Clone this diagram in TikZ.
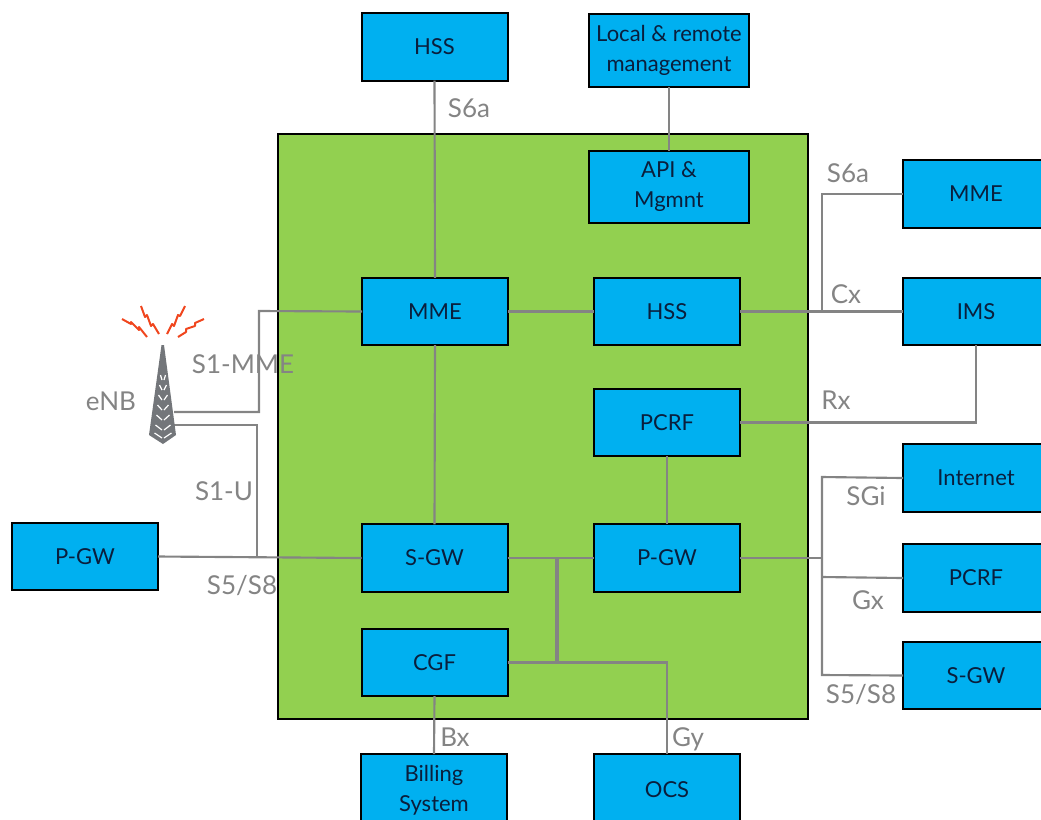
\documentclass[tikz,border=0pt]{standalone}
\usepackage{fontspec}
\setmainfont{Lato}
\definecolor{boxblue}{RGB}{0,176,240}
\definecolor{epcgreen}{RGB}{146,208,80}
\definecolor{linkgray}{RGB}{132,132,132}
\definecolor{towergray}{RGB}{115,118,122}
\definecolor{boxtext}{RGB}{10,30,60}
\definecolor{boltred}{RGB}{240,70,30}
\tikzset{
  boxnode/.style={draw=black,fill=boxblue,line width=1.5pt,inner sep=0pt,outer sep=0pt,
    minimum width=109.5pt,minimum height=50.5pt,align=center,text=boxtext,font=\fontsize{16.5}{22.5}\selectfont},
  linklabel/.style={text=linkgray,inner sep=0pt,font=\fontsize{19.5}{22}\selectfont},
  link/.style={draw=linkgray,line width=1.6pt},
  bolt/.style={draw=boltred,line width=1.5pt,line join=round},
}
\begin{document}
\begin{tikzpicture}[x=0.75pt,y=0.75pt,yscale=-1,xscale=1]
        \clip (0,0) rectangle (1041,819);
        \draw [line width=1.5pt,fill=epcgreen] (278,134) rectangle (808,719);
        % inside the core
        \coordinate (mmeLeft) at (259,311);
        \coordinate (s1mmeEnd) at (174,412);
        \coordinate (s1uEnd) at (174,425);
        \coordinate (s1uJoin) at (257,558);
        \coordinate (billTop) at (557,558);
        \coordinate (billBottom) at (557,661);
        \coordinate (cxJoin) at (822,311);
        \coordinate (sgiJoin) at (822,477);
        \coordinate (gxJoin) at (822,577);
        \coordinate (s5Join) at (822,675);
        \coordinate (pgwJoin) at (822,558);
        % boxes
        \node [boxnode] (hssTop) at (434.5,47) {HSS};
        \node [boxnode,minimum width=120pt,minimum height=55pt] (localMgmt) at (669,50.5) {Local \& remote\\management};
        \node [boxnode,minimum width=120pt,minimum height=54pt] (apiMgmt) at (669,187) {API \&\\Mgmnt};
        \node [boxnode] (mmeCore) at (435,311.5) {MME};
        \node [boxnode] (hssCore) at (667,311.5) {HSS};
        \node [boxnode] (pcrfCore) at (667,422.5) {PCRF};
        \node [boxnode] (sgwCore) at (434.5,558) {S-GW};
        \node [boxnode] (pgwCore) at (667,558) {P-GW};
        \node [boxnode] (cgfCore) at (434.5,662.5) {CGF};
        \node [boxnode] (pgwLeft) at (85,556.5) {P-GW};
        \node [boxnode,minimum height=54pt] (billing) at (434,790) {Billing\\System};
        \node [boxnode,minimum height=54pt] (ocs) at (667,790) {OCS};
        \node [boxnode] (mmeRight) at (976,194) {MME};
        \node [boxnode] (imsRight) at (976,311.5) {IMS};
        \node [boxnode] (internet) at (976,478) {Internet};
        \node [boxnode] (pcrfRight) at (976,578) {PCRF};
        \node [boxnode] (sgwRight) at (976,675.5) {S-GW};
        % links
        \draw [link] (hssTop.south) -- (mmeCore.north);
        \draw [link] (localMgmt.south) -- (apiMgmt.north);
        \draw [link] (mmeCore.south) -- (sgwCore.north);
        \draw [link] (mmeCore.east) -- (hssCore.west);
        \draw [link] (hssCore.east) -- (imsRight.west);
        \draw [link] (cxJoin) |- (mmeRight.west);
        \draw [link] (pcrfCore.east) -| (imsRight.south);
        \draw [link] (pcrfCore.south) -- (pgwCore.north);
        \draw [link] (sgwCore.east) -- (pgwCore.west);
        \draw [link] (pgwLeft.east) -- (sgwCore.west);
        \draw [link] (s1mmeEnd) -| (mmeLeft) -- (mmeCore.west);
        \draw [link] (s1uEnd) -| (s1uJoin);
        \draw [link,line width=2.6pt] (billTop) -- (billBottom);
        \draw [link] (cgfCore.east) -| (ocs.north);
        \draw [link] (cgfCore.south) -- (billing.north);
        \draw [link] (pgwCore.east) -- (pgwJoin);
        \draw [link] (internet.west) -- (sgiJoin) -- (s5Join) -- (sgwRight.west);
        \draw [link] (gxJoin) -- (pcrfRight.west);
        % link names
        \node [linklabel] (s6aTop) at (469,108) {S6a};
        \node [linklabel] (s6aRight) at (848,173) {S6a};
        \node [linklabel] (cxLabel) at (846,294) {Cx};
        \node [linklabel] (rxLabel) at (836,400) {Rx};
        \node [linklabel] (sgiLabel) at (866,496) {SGi};
        \node [linklabel] (gxLabel) at (868,600) {Gx};
        \node [linklabel] (s5Right) at (861,694) {S5/S8};
        \node [linklabel] (gyLabel) at (688,739) {Gy};
        \node [linklabel] (bxLabel) at (455,737) {Bx};
        \node [linklabel] (s1mmeLabel) at (243,364) {S1-MME};
        \node [linklabel] (enbLabel) at (111,401) {eNB};
        \node [linklabel] (s1uLabel) at (224,491) {S1-U};
        \node [linklabel] (s5Left) at (242,585) {S5/S8};
        % tower
        \fill [towergray] (161.5,345) -- (164,345) -- (176,435) -- (163,444) -- (149,435) -- cycle;
        \foreach \y/\w in {375/2.5,385/3.5,395/4.5,405/5.5,415/6.5,425/7.5,433/8.5} {
          \draw [white,line width=0.9pt] (163-\w,\y) -- (162,\y+5);
          \draw [white,line width=0.9pt] (163+\w,\y) -- (164,\y+5);
        }
        % radio waves
        \draw [bolt] (122,319) -- (131,324) -- (131,322) -- (139,330) -- (139,327) -- (147,337);
        \draw [bolt] (141,306) -- (145,317) -- (147,315) -- (151,326) -- (153,324) -- (159,334);
        \draw [bolt] (185,306) -- (180,316) -- (178,315) -- (174,326) -- (172,324) -- (167,334);
        \draw [bolt] (204,319) -- (195,323) -- (195,326) -- (186,329) -- (186,332) -- (178,337);
\end{tikzpicture}
\end{document}
